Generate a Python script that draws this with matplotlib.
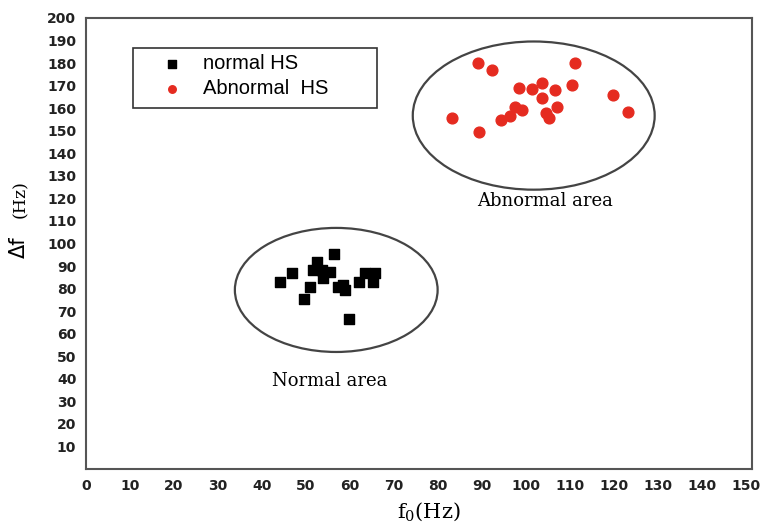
import matplotlib
matplotlib.use("Agg")
import matplotlib.pyplot as plt
from matplotlib.patches import Ellipse, Rectangle

plt.rcParams["mathtext.fontset"] = "dejavuserif"

# data
normal_f0 = [44.1, 46.8, 49.5, 50.9, 52.5, 51.6, 53.6, 53.9, 55.5, 56.4,
             57.3, 58.9, 58.4, 59.8, 62.0, 63.4, 65.7, 65.2]
normal_df = [83.0, 87.0, 75.5, 80.8, 91.9, 88.3, 88.3, 84.8, 87.4, 95.4,
             80.8, 79.4, 81.7, 66.6, 83.0, 87.0, 87.0, 83.0]

abnormal_f0 = [89.1, 92.3, 83.2, 89.3, 94.3, 96.4, 97.5, 99.1, 98.4, 101.4,
               103.6, 103.6, 106.6, 107.0, 104.5, 105.2, 110.5, 111.1, 119.8, 123.2]
abnormal_df = [180.2, 177.0, 155.8, 149.6, 154.9, 156.7, 160.7, 159.3, 169.1, 168.7,
               171.3, 164.7, 168.2, 160.7, 158.0, 155.8, 170.4, 179.8, 166.0, 158.5]

# ellipse areas: (center x, center y, width, height)
normal_area = (56.9, 79.4, 46.1, 55.0)
abnormal_area = (101.8, 156.7, 55.0, 65.7)

x_ticks = list(range(0, 151, 10))
y_ticks = list(range(10, 201, 10))

fig = plt.figure(figsize=(7.61, 5.27), dpi=100)
ax = fig.add_axes([0.113, 0.110, 0.875, 0.856])

ax.scatter(normal_f0, normal_df, marker="s", s=55, color="black", label="normal HS", zorder=3)
ax.scatter(abnormal_f0, abnormal_df, marker="o", s=60, color="#e52b20", label="Abnormal  HS", zorder=3)

for (cx, cy, w, h) in [normal_area, abnormal_area]:
    ax.add_patch(Ellipse((cx, cy), w, h, fill=False, edgecolor="#444444", linewidth=1.6))

ax.text(104.3, 119, "Abnormal area", family="DejaVu Serif", fontsize=13, ha="center", va="center")
ax.text(55.5, 39, "Normal area", family="DejaVu Serif", fontsize=13, ha="center", va="center")

ax.set_xlim(0, 151.4)
ax.set_ylim(0, 200)
ax.set_xticks(x_ticks)
ax.set_yticks(y_ticks)
ax.tick_params(length=0, pad=7, labelsize=10)
for lab in ax.get_xticklabels() + ax.get_yticklabels():
    lab.set_family("DejaVu Sans")
    lab.set_weight("bold")
    lab.set_color("#222222")

for sp in ax.spines.values():
    sp.set_color("#555555")
    sp.set_linewidth(1.5)

# axis labels placed by hand
fig.text(429 / 761, 1 - 512 / 527, r"f$_0$(Hz)", family="DejaVu Serif", fontsize=15,
         ha="center", va="center")
fig.text(25 / 761, 1 - 247 / 527, "Δf", family="DejaVu Sans", fontsize=15,
         rotation=90, rotation_mode="anchor", ha="center", va="baseline")
fig.text(25 / 761, 1 - 199 / 527, "(Hz)", family="DejaVu Serif", fontsize=12.5,
         rotation=90, rotation_mode="anchor", ha="center", va="baseline")

# legend with a separate box
ax.add_patch(Rectangle((0.0706, 0.800), 0.367, 0.1335, transform=ax.transAxes,
                       fill=False, edgecolor="#333333", linewidth=1.2, zorder=4))
leg = ax.legend(loc="upper left", bbox_to_anchor=(0.114, 0.920), frameon=False,
                prop={"family": "Liberation Sans", "size": 14.5}, markerscale=0.7,
                handlelength=1.0, handletextpad=1.05, borderpad=0, labelspacing=0.3,
                borderaxespad=0)

fig.savefig("out.png", dpi=100)
